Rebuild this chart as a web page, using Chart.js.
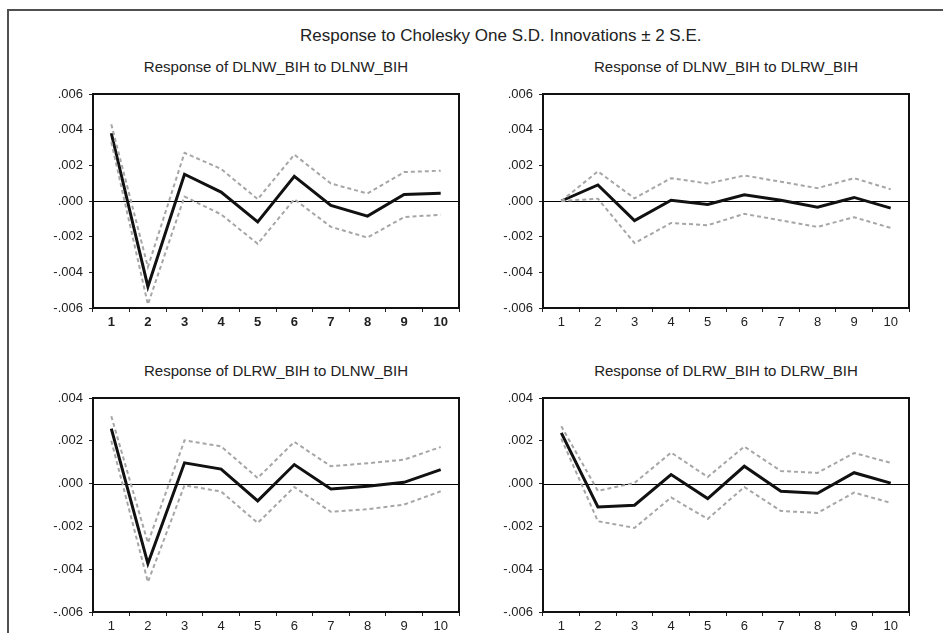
<!DOCTYPE html>
<html lang="en">
<head>
    <meta charset="UTF-8">
    <title>Response to Cholesky One S.D. Innovations</title>
    <script src="https://cdn.jsdelivr.net/npm/chart.js@4.4.0/dist/chart.umd.min.js"></script>
    <style>
        body { margin: 0; background: #fff; overflow: hidden; width: 943px; height: 633px; position: relative; }
        .cadre { position: absolute; left: 7px; top: 9px; width: 1000px; height: 700px;
                 border-left: 2px solid #505050; border-top: 2px solid #505050; }
        .txt { position: absolute; white-space: nowrap; font-family: 'Liberation Sans', Arial, sans-serif;
               color: #222; line-height: 1; }
        .titre { font-size: 17px; left: 300px; top: 27px; }
        .sous { font-size: 15px; width: 366px; text-align: center; }
        canvas { position: absolute; }
    </style>
</head>
<body>
<div class="cadre"></div>
<div class="txt titre">Response to Cholesky One S.D. Innovations ± 2 S.E.</div>
<div class="txt sous" style="left:93px; top:59px;">Response of DLNW_BIH to DLNW_BIH</div>
<div class="txt sous" style="left:543px; top:59px;">Response of DLNW_BIH to DLRW_BIH</div>
<div class="txt sous" style="left:93px; top:363px;">Response of DLRW_BIH to DLNW_BIH</div>
<div class="txt sous" style="left:543px; top:363px;">Response of DLRW_BIH to DLRW_BIH</div>

<canvas id="g1" width="440" height="248" style="left:40px; top:80px;"></canvas>
<canvas id="g2" width="440" height="248" style="left:490px; top:80px;"></canvas>
<canvas id="g3" width="440" height="248" style="left:40px; top:384px;"></canvas>
<canvas id="g4" width="440" height="248" style="left:490px; top:384px;"></canvas>
<script>

    // Périodes
    let periodes = ['1', '2', '3', '4', '5', '6', '7', '8', '9', '10'];

    // Graduations des axes verticaux
    let ticksHaut = [-0.006, -0.004, -0.002, 0, 0.002, 0.004, 0.006];
    let ticksBas = [-0.006, -0.004, -0.002, 0, 0.002, 0.004];

    // DLNW_BIH -> DLNW_BIH
    let rep11 = [0.0038, -0.0048, 0.0015, 0.0005, -0.00117, 0.00138, -0.00025, -0.00085, 0.00036, 0.00043];
    let haut11 = [0.0043, -0.0037, 0.0027, 0.0018, 0.0001, 0.0026, 0.00098, 0.00042, 0.00162, 0.0017];
    let bas11 = [0.0033, -0.0058, 0.00025, -0.00075, -0.0024, 0.0001, -0.00145, -0.00205, -0.0009, -0.00077];

    // DLNW_BIH -> DLRW_BIH
    let rep12 = [0, 0.0009, -0.0011, 0.00004, -0.0002, 0.00035, 0.00004, -0.00035, 0.0002, -0.0004];
    let haut12 = [0, 0.00166, 0.00015, 0.00128, 0.00098, 0.00143, 0.00108, 0.00072, 0.00128, 0.00066];
    let bas12 = [0, 0.00013, -0.00236, -0.00123, -0.00136, -0.00072, -0.00109, -0.00145, -0.00091, -0.00151];

    // DLRW_BIH -> DLNW_BIH
    let rep21 = [0.00257, -0.00374, 0.00097, 0.00068, -0.00081, 0.00089, -0.00025, -0.00012, 0.00006, 0.00065];
    let haut21 = [0.00315, -0.00277, 0.00202, 0.00174, 0.00026, 0.00195, 0.00081, 0.00095, 0.00112, 0.00171];
    let bas21 = [0.0020, -0.0046, -0.00008, -0.00037, -0.00184, -0.00016, -0.00132, -0.0012, -0.00098, -0.00036];

    // DLRW_BIH -> DLRW_BIH
    let rep22 = [0.00237, -0.00109, -0.00101, 0.00042, -0.0007, 0.00081, -0.00036, -0.00045, 0.00051, 0.00002];
    let haut22 = [0.00268, -0.00034, 0.00003, 0.00145, 0.00031, 0.00173, 0.00059, 0.0005, 0.00143, 0.00097];
    let bas22 = [0.0021, -0.00176, -0.00207, -0.00065, -0.00165, -0.00016, -0.00128, -0.00137, -0.00042, -0.0009];

    Chart.defaults.font.family = "'Liberation Sans', Arial, sans-serif";
    Chart.defaults.color = '#222';

    // cadre noir autour de la zone de tracé + ligne du zéro
    let cadrePlugin = {
        id: 'cadre',
        beforeDatasetsDraw: (chart) => {
            let ctx = chart.ctx;
            let a = chart.chartArea;
            let y0 = Math.round(chart.scales.y.getPixelForValue(0)) + 0.5;
            ctx.save();
            ctx.strokeStyle = '#000';
            ctx.lineWidth = 1;
            ctx.beginPath();
            ctx.moveTo(a.left, y0);
            ctx.lineTo(a.right, y0);
            ctx.stroke();
            ctx.restore();
        },
        afterDraw: (chart) => {
            let ctx = chart.ctx;
            let a = chart.chartArea;
            ctx.save();
            ctx.strokeStyle = '#111';
            ctx.lineWidth = 2;
            ctx.strokeRect(a.left, a.top, a.right - a.left, a.bottom - a.top);
            ctx.restore();
        }
    };

    let formateTick = (v) => {
        if (Math.abs(v) < 1e-9) {
            return '.000';
        }
        return (v < 0 ? '-' : '') + Math.abs(v).toFixed(3).replace(/^0/, '');
    };

    let creeGraphe = (id, rep, haut, bas, ticksY, grasX) => {
        let ctx = document.getElementById(id).getContext('2d');
        return new Chart(ctx, {
            type: 'line',
            data: {
                labels: periodes,
                datasets: [
                    {
                        data: haut,
                        borderColor: '#a6a6a6',
                        borderWidth: 2,
                        borderDash: [4, 3],
                        pointRadius: 0,
                        tension: 0
                    },
                    {
                        data: bas,
                        borderColor: '#a6a6a6',
                        borderWidth: 2,
                        borderDash: [4, 3],
                        pointRadius: 0,
                        tension: 0
                    },
                    {
                        data: rep,
                        borderColor: '#111',
                        borderWidth: 3,
                        pointRadius: 0,
                        tension: 0
                    }
                ]
            },
            options: {
                responsive: false,
                animation: false,
                layout: { padding: { top: 14, right: 21, left: 0, bottom: 0 } },
                plugins: {
                    legend: { display: false },
                    tooltip: { enabled: false }
                },
                scales: {
                    x: {
                        offset: true,
                        grid: { offset: true, drawOnChartArea: false, tickLength: 4, color: '#222', lineWidth: 1 },
                        border: { display: false },
                        ticks: { padding: 3, maxRotation: 0, font: { size: 13, weight: grasX ? 'bold' : 'normal' } },
                        afterFit: (s) => { s.height = 20; }
                    },
                    y: {
                        min: ticksY[0],
                        max: ticksY[ticksY.length - 1],
                        grid: { drawOnChartArea: false, tickLength: 4, color: '#222', lineWidth: 1 },
                        border: { display: false },
                        ticks: { padding: 6, font: { size: 13 }, callback: (v) => formateTick(v) },
                        afterBuildTicks: (s) => { s.ticks = ticksY.map(v => ({ value: v })); },
                        afterFit: (s) => { s.width = 53; }
                    }
                }
            },
            plugins: [cadrePlugin]
        });
    };

    creeGraphe('g1', rep11, haut11, bas11, ticksHaut, true);
    creeGraphe('g2', rep12, haut12, bas12, ticksHaut, false);
    creeGraphe('g3', rep21, haut21, bas21, ticksBas, false);
    creeGraphe('g4', rep22, haut22, bas22, ticksBas, false);

</script>
</body>
</html>
